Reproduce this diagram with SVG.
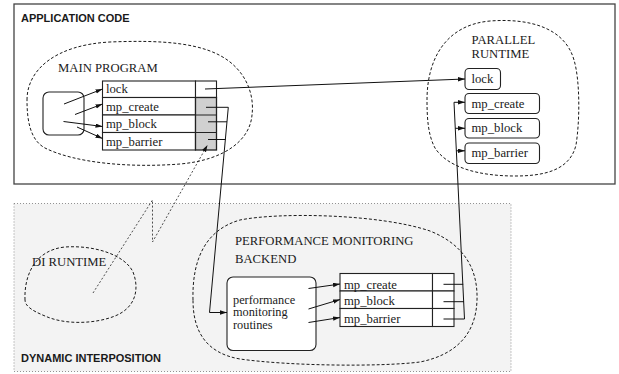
<svg xmlns="http://www.w3.org/2000/svg" width="619" height="374" viewBox="0 0 619 374">
  <style>
    .serif { font-family: "Liberation Serif", "Times New Roman", serif; font-size: 12.7px; fill: #1a1a1a; }
    .small { font-size: 12.3px; }
    .title { font-family: "Liberation Sans", Arial, sans-serif; font-size: 11px; font-weight: bold; fill: #1a1a1a; }
    .blob { fill: none; stroke: #1a1a1a; stroke-width: 1; stroke-dasharray: 3 2; }
    .cell { fill: #ffffff; stroke: #222; stroke-width: 1.1; }
    .box { fill: #ffffff; stroke: #222; stroke-width: 1.1; }
    .wire { fill: none; stroke: #111; stroke-width: 1; }
    .arrow { fill: none; stroke: #111; stroke-width: 1; marker-end: url(#head); }
    .dotted { fill: none; stroke: #222; stroke-width: 0.8; stroke-dasharray: 2 2; }
  </style>
  <defs>
    <marker id="head" markerUnits="userSpaceOnUse" markerWidth="8" markerHeight="6" refX="7" refY="2.2" orient="auto">
      <path d="M0,0 L7,2.2 L0,4.4 Z" fill="#111"/>
    </marker>
  </defs>

  <!-- application code frame -->
  <g id="application-code">
    <rect x="14" y="4" width="601" height="180" fill="#ffffff" stroke="#444" stroke-width="1.3"/>
    <text class="title" x="21" y="22">APPLICATION CODE</text>
  </g>

  <!-- dynamic interposition frame -->
  <g id="dynamic-interposition">
    <rect x="14" y="203.5" width="497" height="168" fill="#f3f3f3" stroke="#777" stroke-width="0.8" stroke-dasharray="1 2"/>
    <text class="title" x="21" y="362">DYNAMIC INTERPOSITION</text>
  </g>

  <!-- main program -->
  <g id="main-program">
    <path class="blob" d="M27,100 C27,70 55,45 110,42 C160,40 205,42 230,62 C250,78 254,100 252,115 C250,140 225,160 180,164 C130,168 75,163 45,148 C30,140 27,120 27,100 Z"/>
    <text class="serif" x="58" y="72">MAIN PROGRAM</text>
    <rect class="box" x="43" y="92" width="41" height="43" rx="6"/>
    <rect class="cell" x="102.5" y="81" width="93" height="16.5"/>
    <rect class="cell" x="102.5" y="97.5" width="93" height="17.5"/>
    <rect class="cell" x="102.5" y="115" width="93" height="17.5"/>
    <rect class="cell" x="102.5" y="132.5" width="93" height="17.5"/>
    <rect class="cell" x="195.5" y="81" width="21" height="16.5"/>
    <rect x="195.5" y="97.5" width="21" height="52.5" fill="#d0d0d0" stroke="#222" stroke-width="1.3"/>
    <line x1="195.5" y1="115" x2="216.5" y2="115" stroke="#222" stroke-width="1"/>
    <line x1="195.5" y1="132.5" x2="216.5" y2="132.5" stroke="#222" stroke-width="1"/>
    <text class="serif" x="106" y="93">lock</text>
    <text class="serif" x="106" y="110.5">mp_create</text>
    <text class="serif" x="106" y="128">mp_block</text>
    <text class="serif" x="106" y="145.5">mp_barrier</text>
  </g>

  <!-- parallel runtime -->
  <g id="parallel-runtime">
    <path class="blob" d="M427,100 C427,60 445,25 490,21 C530,18 565,28 574,60 C580,80 580,120 576,145 C570,170 545,176 515,176 C480,176 448,168 435,148 C428,135 427,118 427,100 Z"/>
    <text class="serif" x="471.5" y="44">PARALLEL</text>
    <text class="serif" x="471.5" y="57.5">RUNTIME</text>
    <rect class="box" x="465" y="68.5" width="35.5" height="21" rx="4"/>
    <rect class="box" x="465" y="93.5" width="74.5" height="20" rx="4"/>
    <rect class="box" x="465" y="118.5" width="74.5" height="19.5" rx="4"/>
    <rect class="box" x="465" y="143" width="74.5" height="20.5" rx="4"/>
    <text class="serif" x="471.5" y="83">lock</text>
    <text class="serif" x="471.5" y="107.5">mp_create</text>
    <text class="serif" x="471.5" y="132">mp_block</text>
    <text class="serif" x="471.5" y="157">mp_barrier</text>
  </g>

  <!-- dynamic interposition runtime -->
  <g id="di-runtime">
    <path class="blob" d="M25,300 C24,275 35,250 65,247 C95,245 125,255 133,272 C140,290 135,308 115,316 C95,324 65,325 45,316 C30,310 25,305 25,300 Z"/>
    <text class="serif" x="32" y="266">DI RUNTIME</text>
  </g>

  <!-- performance monitoring backend -->
  <g id="performance-backend">
    <path class="blob" d="M193,300 C192,260 205,230 240,220 C280,212 380,214 430,231 C465,245 478,270 477,300 C476,335 455,355 420,362 C380,367 290,366 240,359 C205,353 193,330 193,300 Z"/>
    <text class="serif" x="235" y="245">PERFORMANCE MONITORING</text>
    <text class="serif" x="235" y="262.5">BACKEND</text>
    <rect class="box" x="227" y="277" width="89" height="73.5" rx="6"/>
    <text class="serif small" x="233" y="303.5">performance</text>
    <text class="serif small" x="233" y="316">monitoring</text>
    <text class="serif small" x="233" y="328.8">routines</text>
    <rect class="cell" x="340" y="273.5" width="92.5" height="17.5"/>
    <rect class="cell" x="340" y="291" width="92.5" height="17.5"/>
    <rect class="cell" x="340" y="308.5" width="92.5" height="18"/>
    <rect class="cell" x="432.5" y="273.5" width="21.5" height="17.5"/>
    <rect class="cell" x="432.5" y="291" width="21.5" height="17.5"/>
    <rect class="cell" x="432.5" y="308.5" width="21.5" height="18"/>
    <text class="serif" x="344" y="288.5">mp_create</text>
    <text class="serif" x="344" y="305">mp_block</text>
    <text class="serif" x="344" y="322.5">mp_barrier</text>
  </g>

  <!-- connectors -->
  <g id="connectors">
    <!-- main program body to its call table -->
    <line class="arrow" x1="64" y1="104" x2="102.5" y2="89"/>
    <line class="arrow" x1="75" y1="114.5" x2="102.5" y2="104"/>
    <line class="arrow" x1="63.5" y1="121.5" x2="102.5" y2="126.5"/>
    <line class="arrow" x1="77" y1="127" x2="102.5" y2="138.5"/>
    <!-- lock goes straight to the parallel runtime -->
    <line class="arrow" x1="205" y1="89" x2="465" y2="79"/>
    <!-- intercepted calls go to the monitoring routines -->
    <line class="wire" x1="206" y1="107.3" x2="228.3" y2="107.3"/>
    <line class="wire" x1="208" y1="121.8" x2="227" y2="121.8"/>
    <line class="wire" x1="208" y1="139.5" x2="225.5" y2="139.5"/>
    <polyline class="arrow" points="228.3,107.3 209.5,312.5 227,312.5"/>
    <!-- monitoring routines to the backend call table -->
    <line class="arrow" x1="308.5" y1="288.5" x2="340" y2="284"/>
    <line class="arrow" x1="308.5" y1="309" x2="340" y2="299.5"/>
    <line class="arrow" x1="308.5" y1="322.5" x2="340" y2="317.5"/>
    <!-- backend table forwards to the parallel runtime -->
    <line class="wire" x1="443.5" y1="284.3" x2="463.2" y2="284.3"/>
    <line class="wire" x1="443.5" y1="301.7" x2="464" y2="301.7"/>
    <polyline class="arrow" points="443.5,319 464.5,319 454,102.3 465,102.3"/>
    <line class="arrow" x1="455.3" y1="128.3" x2="465" y2="128.3"/>
    <line class="arrow" x1="456.4" y1="150.8" x2="465" y2="150.8"/>
    <!-- interposition link from DI runtime -->
    <polyline class="dotted" points="93,293 152.5,200 152.5,242 207.5,145" marker-end="url(#head)"/>
  </g>
</svg>
